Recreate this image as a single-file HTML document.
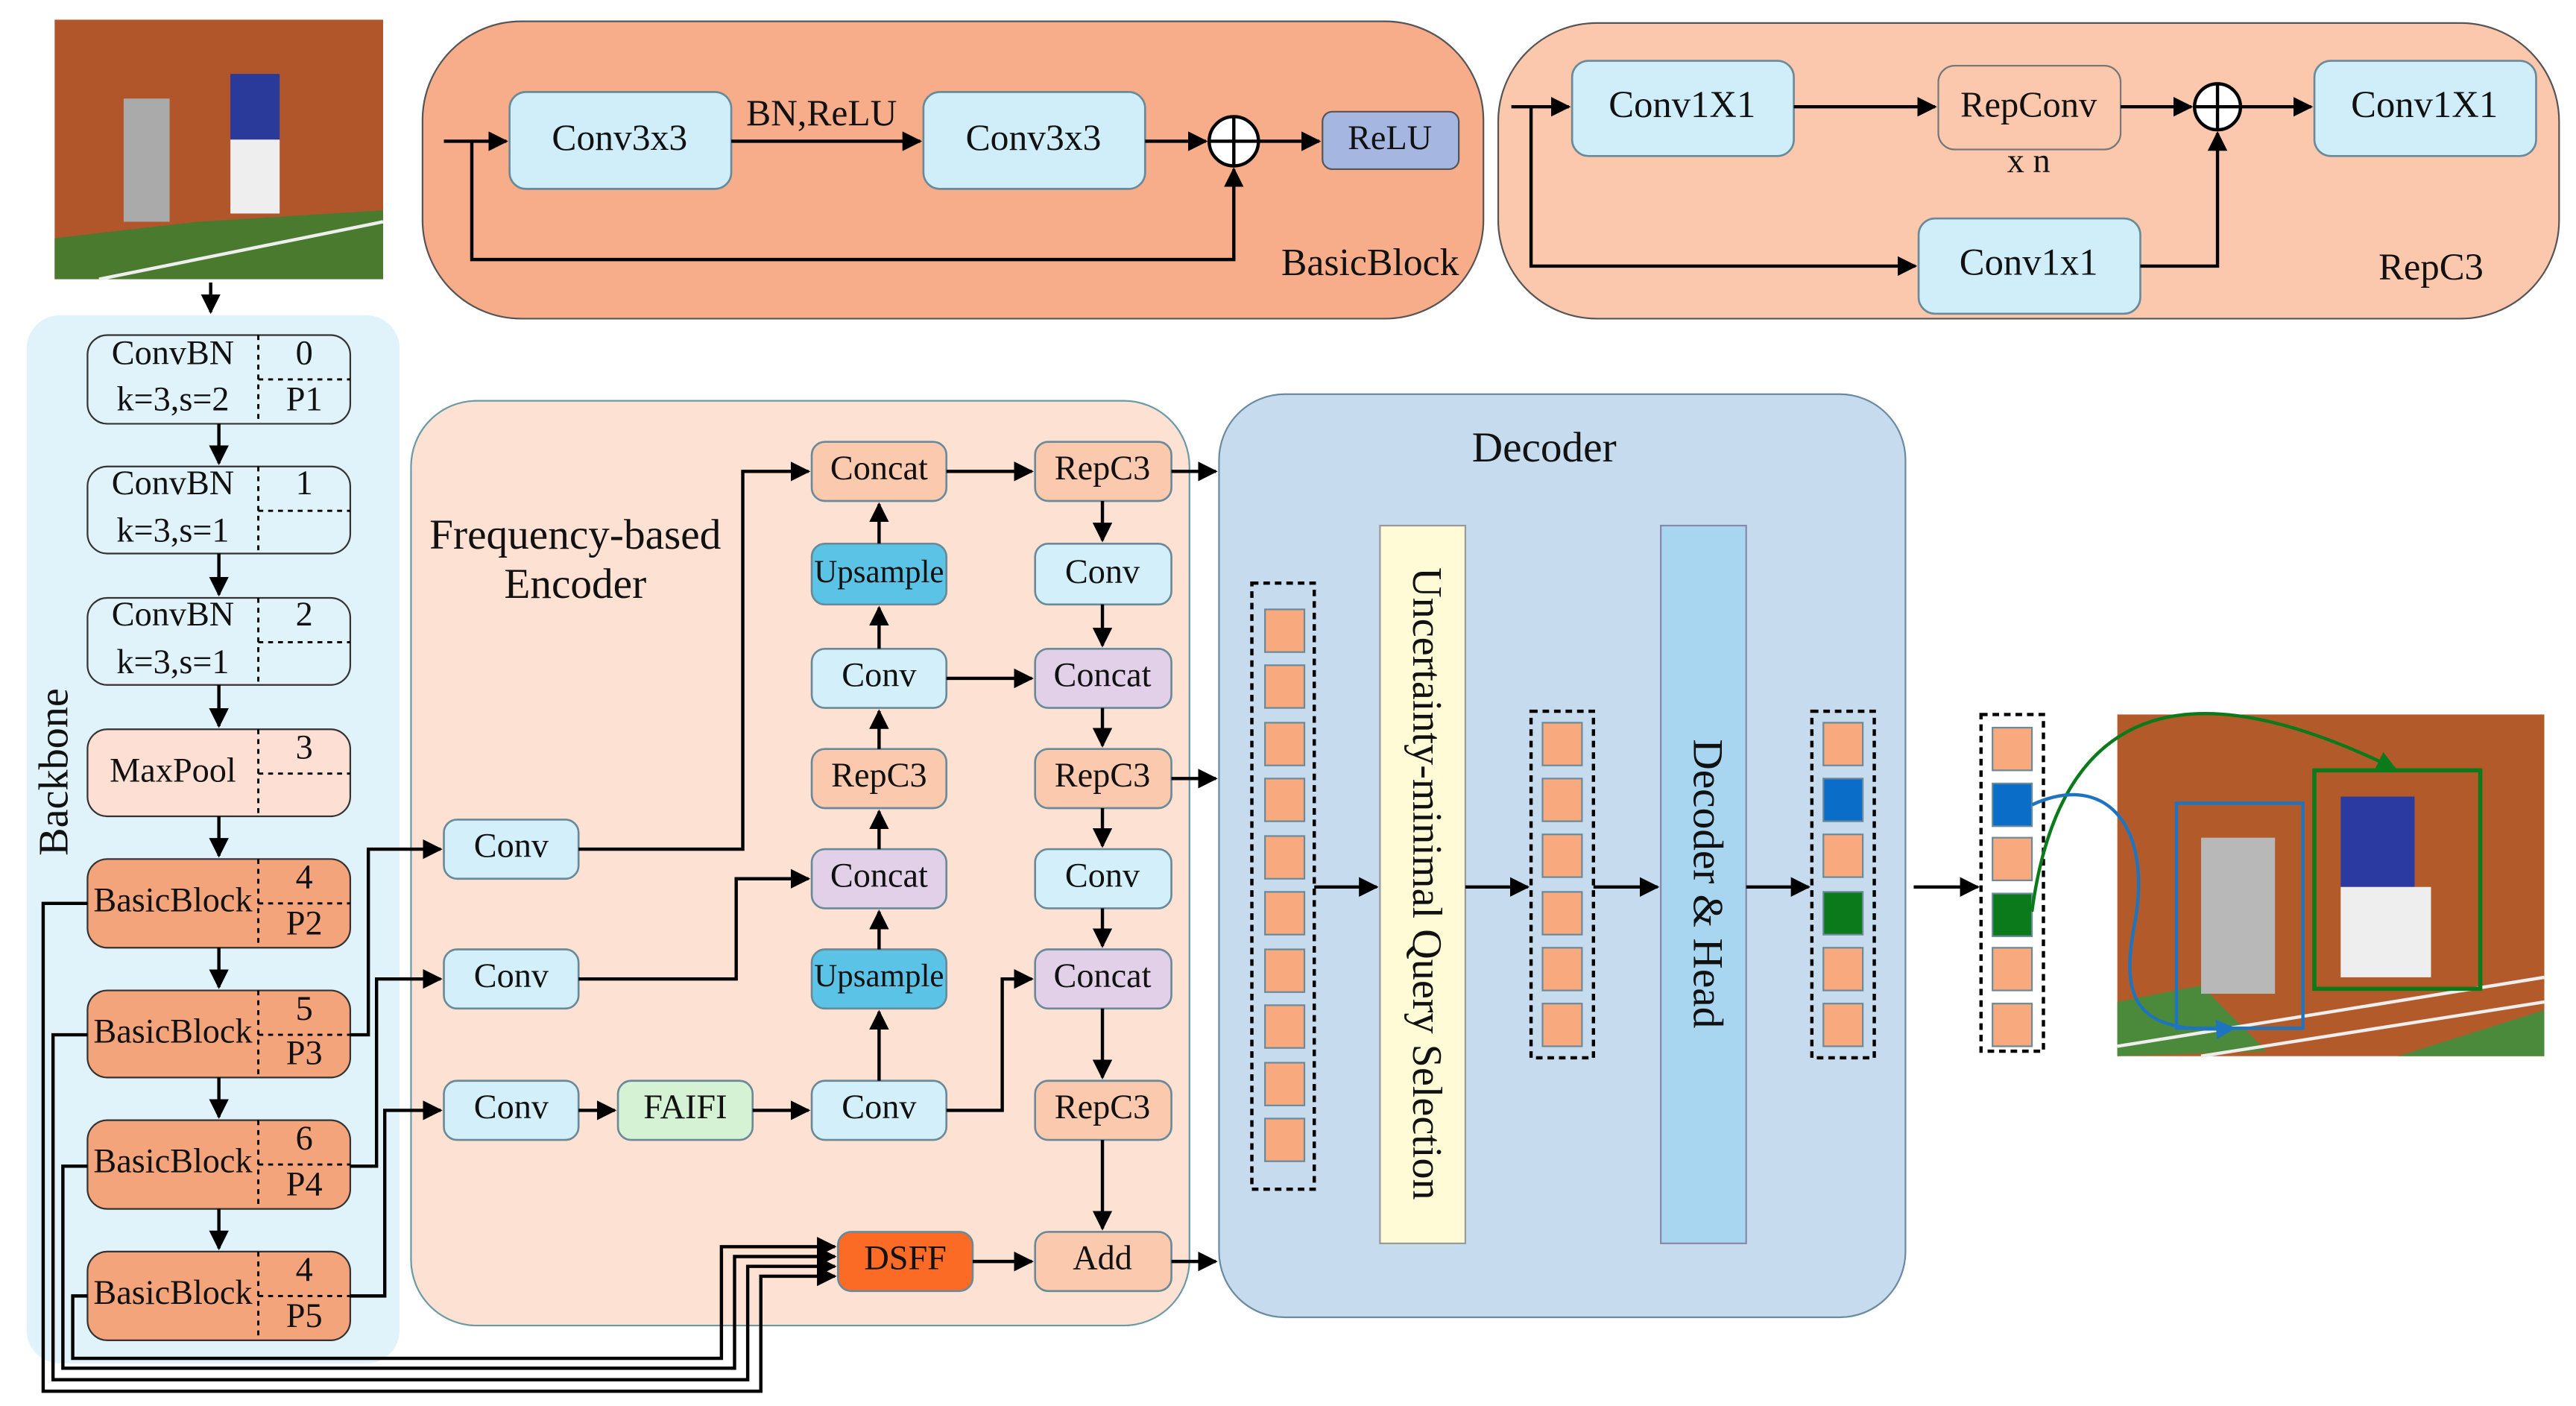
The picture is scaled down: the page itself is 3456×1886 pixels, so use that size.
<!DOCTYPE html>
<html><head><meta charset="utf-8"><style>
html,body{margin:0;padding:0;background:#fff}
svg{display:block}
text{font-family:"Liberation Serif",serif;fill:#111;text-anchor:middle;dominant-baseline:middle}
.b{stroke:#6a8a99;stroke-width:1.2}
.l{fill:none;stroke:#000;stroke-width:2}
</style></head><body>
<svg width="3456" height="1886" viewBox="0 0 1568 856" xmlns="http://www.w3.org/2000/svg" font-size="21">
<defs>
<marker id="a" viewBox="0 0 10 10" refX="9" refY="5" markerWidth="6" markerHeight="6" orient="auto"><path d="M0,0L10,5L0,10z" fill="#000"/></marker>
<marker id="g" viewBox="0 0 10 10" refX="9" refY="5" markerWidth="6" markerHeight="6" orient="auto"><path d="M0,0L10,5L0,10z" fill="#0a7a1a"/></marker>
<marker id="u" viewBox="0 0 10 10" refX="9" refY="5" markerWidth="6" markerHeight="6" orient="auto"><path d="M0,0L10,5L0,10z" fill="#1f74c0"/></marker>
</defs>
<rect x="33" y="12" width="200" height="158" fill="#b0562a"/>
<path d="M33,145 L120,135 L233,128 L233,170 L33,170z" fill="#4a7a2e"/>
<path d="M60,170 L233,135" stroke="#eee" stroke-width="2"/>
<rect x="75" y="60" width="28" height="75" fill="#aaa"/>
<rect x="140" y="45" width="30" height="40" fill="#2a3a9a"/>
<rect x="140" y="85" width="30" height="45" fill="#eee"/>
<path class="l" d="M128,172V190" marker-end="url(#a)"/>
<rect x="16" y="192" width="227" height="638" rx="20" fill="#e0f2fa"/>
<text x="35" y="470" style="font-size:25.5px" transform="rotate(-90 35 470)">Backbone</text>
<g>
<rect x="53" y="204" width="160" height="54" rx="12" fill="#e1f3fa" stroke="#333"/>
<rect x="53" y="284" width="160" height="53" rx="12" fill="#e1f3fa" stroke="#333"/>
<rect x="53" y="364" width="160" height="53" rx="12" fill="#e1f3fa" stroke="#333"/>
<rect x="53" y="444" width="160" height="53" rx="12" fill="#fde0d3" stroke="#333"/>
<rect x="53" y="523" width="160" height="54" rx="12" fill="#f4a47b" stroke="#333"/>
<rect x="53" y="603" width="160" height="53" rx="12" fill="#f4a47b" stroke="#333"/>
<rect x="53" y="682" width="160" height="54" rx="12" fill="#f4a47b" stroke="#333"/>
<rect x="53" y="762" width="160" height="54" rx="12" fill="#f4a47b" stroke="#333"/>
</g>
<g stroke="#000" stroke-dasharray="3,3" stroke-width="1.3">
<path d="M157,204V258M157,231H213M157,284V337M157,311H213M157,364V417M157,391H213M157,444V497M157,471H213M157,523V577M157,550H213M157,603V656M157,630H213M157,682V736M157,709H213M157,762V816M157,789H213"/>
</g>
<text x="105" y="217">ConvBN</text><text x="105" y="245">k=3,s=2</text><text x="185" y="217">0</text><text x="185" y="245">P1</text>
<text x="105" y="296">ConvBN</text><text x="105" y="325">k=3,s=1</text><text x="185" y="296">1</text>
<text x="105" y="376">ConvBN</text><text x="105" y="405">k=3,s=1</text><text x="185" y="376">2</text>
<text x="105" y="471">MaxPool</text><text x="185" y="457">3</text>
<text x="105" y="550">BasicBlock</text><text x="185" y="536">4</text><text x="185" y="564">P2</text>
<text x="105" y="630">BasicBlock</text><text x="185" y="616">5</text><text x="185" y="643">P3</text>
<text x="105" y="709">BasicBlock</text><text x="185" y="695">6</text><text x="185" y="723">P4</text>
<text x="105" y="789">BasicBlock</text><text x="185" y="775">4</text><text x="185" y="803">P5</text>
<g class="l">
<path d="M133,258V282" marker-end="url(#a)"/><path d="M133,337V362" marker-end="url(#a)"/><path d="M133,417V442" marker-end="url(#a)"/><path d="M133,497V521" marker-end="url(#a)"/><path d="M133,577V601" marker-end="url(#a)"/><path d="M133,656V680" marker-end="url(#a)"/><path d="M133,736V760" marker-end="url(#a)"/>
</g>
<rect x="257" y="13" width="646" height="181" rx="60" fill="#f7ad8a" stroke="#555"/>
<rect x="310" y="56" width="135" height="59" rx="10" fill="#cfeefa" class="b"/><text x="377" y="86" style="font-size:22.5px">Conv3x3</text>
<rect x="562" y="56" width="135" height="59" rx="10" fill="#cfeefa" class="b"/><text x="629" y="86" style="font-size:22.5px">Conv3x3</text>
<text x="500" y="71" style="font-size:22.5px">BN,ReLU</text>
<circle cx="751" cy="86" r="15" fill="#fff" stroke="#000" stroke-width="2"/><path d="M736,86H766M751,71V101" stroke="#000" stroke-width="2"/>
<rect x="805" y="68" width="83" height="35" rx="6" fill="#a5b6e0" stroke="#555"/><text x="846" y="86">ReLU</text>
<g class="l">
<path d="M270,86H308" marker-end="url(#a)"/><path d="M445,86H560" marker-end="url(#a)"/><path d="M697,86H734" marker-end="url(#a)"/><path d="M766,86H803" marker-end="url(#a)"/>
<path d="M287,86V158H751V103" marker-end="url(#a)"/>
</g>
<text x="834" y="162" style="font-size:23.5px">BasicBlock</text>
<rect x="912" y="14" width="646" height="180" rx="60" fill="#fcc8ad" stroke="#555"/>
<rect x="957" y="37" width="135" height="58" rx="10" fill="#cfeefa" class="b"/><text x="1024" y="66" style="font-size:23px">Conv1X1</text>
<rect x="1180" y="40" width="111" height="51" rx="10" fill="#fcc8ad" stroke="#777"/><text x="1235" y="66" style="font-size:22px">RepConv</text>
<text x="1235" y="100">x n</text>
<circle cx="1350" cy="65" r="14" fill="#fff" stroke="#000" stroke-width="2"/><path d="M1336,65H1364M1350,51V79" stroke="#000" stroke-width="2"/>
<rect x="1409" y="37" width="135" height="58" rx="10" fill="#cfeefa" class="b"/><text x="1476" y="66" style="font-size:23px">Conv1X1</text>
<rect x="1168" y="133" width="135" height="58" rx="10" fill="#cfeefa" class="b"/><text x="1235" y="162" style="font-size:23px">Conv1x1</text>
<g class="l">
<path d="M920,65H955" marker-end="url(#a)"/><path d="M1092,65H1178" marker-end="url(#a)"/><path d="M1291,65H1334" marker-end="url(#a)"/><path d="M1364,65H1407" marker-end="url(#a)"/>
<path d="M932,65V162H1166" marker-end="url(#a)"/><path d="M1303,162H1350V81" marker-end="url(#a)"/>
</g>
<text x="1480" y="165" style="font-size:23px">RepC3</text>
<rect x="250" y="244" width="474" height="563" rx="40" fill="#fde1d3" stroke="#6a9aa6"/>
<text x="350" y="328" style="font-size:26px">Frequency-based</text><text x="350" y="358" style="font-size:26px">Encoder</text>
<g class="b">
<rect x="270" y="499" width="82" height="36" rx="8" fill="#d3f0fa"/>
<rect x="270" y="578" width="82" height="36" rx="8" fill="#d3f0fa"/>
<rect x="270" y="658" width="82" height="36" rx="8" fill="#d3f0fa"/>
<rect x="376" y="658" width="82" height="36" rx="8" fill="#d5f2d5"/>
<rect x="494" y="658" width="82" height="36" rx="8" fill="#d3f0fa"/>
<rect x="494" y="269" width="82" height="36" rx="8" fill="#fbc9ae"/>
<rect x="494" y="331" width="82" height="37" rx="8" fill="#5ac3e6"/>
<rect x="494" y="395" width="82" height="36" rx="8" fill="#d3f0fa"/>
<rect x="494" y="456" width="82" height="36" rx="8" fill="#fbc9ae"/>
<rect x="494" y="517" width="82" height="36" rx="8" fill="#e2d0e8"/>
<rect x="494" y="578" width="82" height="36" rx="8" fill="#5ac3e6"/>
<rect x="630" y="269" width="83" height="36" rx="8" fill="#fbc9ae"/>
<rect x="630" y="331" width="83" height="37" rx="8" fill="#d3f0fa"/>
<rect x="630" y="395" width="83" height="36" rx="8" fill="#e2d0e8"/>
<rect x="630" y="456" width="83" height="36" rx="8" fill="#fbc9ae"/>
<rect x="630" y="517" width="83" height="36" rx="8" fill="#d3f0fa"/>
<rect x="630" y="578" width="83" height="36" rx="8" fill="#e2d0e8"/>
<rect x="630" y="658" width="83" height="36" rx="8" fill="#fbc9ae"/>
<rect x="630" y="750" width="83" height="36" rx="8" fill="#fbc9ae"/>
<rect x="510" y="750" width="82" height="36" rx="8" fill="#fb6b26"/>
</g>
<text x="311" y="517">Conv</text><text x="311" y="596">Conv</text><text x="311" y="676">Conv</text><text x="417" y="676">FAIFI</text><text x="535" y="676">Conv</text>
<text x="535" y="287">Concat</text><text x="535" y="350" style="font-size:19.5px">Upsample</text><text x="535" y="413">Conv</text><text x="535" y="474">RepC3</text><text x="535" y="535">Concat</text><text x="535" y="596" style="font-size:19.5px">Upsample</text>
<text x="671" y="287">RepC3</text><text x="671" y="350">Conv</text><text x="671" y="413">Concat</text><text x="671" y="474">RepC3</text><text x="671" y="535">Conv</text><text x="671" y="596">Concat</text><text x="671" y="676">RepC3</text><text x="671" y="768">Add</text><text x="551" y="768">DSFF</text>
<g class="l">
<path d="M352,517H452V287H492" marker-end="url(#a)"/>
<path d="M352,596H448V535H492" marker-end="url(#a)"/>
<path d="M352,676H374" marker-end="url(#a)"/><path d="M458,676H492" marker-end="url(#a)"/>
<path d="M576,676H610V596H628" marker-end="url(#a)"/>
<path d="M535,658V616" marker-end="url(#a)"/><path d="M535,578V555" marker-end="url(#a)"/><path d="M535,517V494" marker-end="url(#a)"/><path d="M535,456V433" marker-end="url(#a)"/><path d="M535,395V370" marker-end="url(#a)"/><path d="M535,331V307" marker-end="url(#a)"/>
<path d="M576,287H628" marker-end="url(#a)"/><path d="M576,413H628" marker-end="url(#a)"/>
<path d="M671,305V329" marker-end="url(#a)"/><path d="M671,368V393" marker-end="url(#a)"/><path d="M671,431V454" marker-end="url(#a)"/><path d="M671,492V515" marker-end="url(#a)"/><path d="M671,553V576" marker-end="url(#a)"/><path d="M671,614V656" marker-end="url(#a)"/><path d="M671,694V748" marker-end="url(#a)"/>
<path d="M592,768H628" marker-end="url(#a)"/>
<path d="M713,287H740" marker-end="url(#a)"/><path d="M713,474H740" marker-end="url(#a)"/><path d="M713,768H740" marker-end="url(#a)"/>
<path d="M213,630H224V517H268" marker-end="url(#a)"/>
<path d="M213,710H229V596H268" marker-end="url(#a)"/>
<path d="M213,789H234V676H268" marker-end="url(#a)"/>
<path d="M53,550H26V847H463V777H508" marker-end="url(#a)"/>
<path d="M53,630H32V840H455V771H508" marker-end="url(#a)"/>
<path d="M53,710H38V833H447V765H508" marker-end="url(#a)"/>
<path d="M53,789H44V827H439V759H508" marker-end="url(#a)"/>
</g>
<rect x="742" y="240" width="418" height="562" rx="40" fill="#c6dcee" stroke="#6a8aa0"/>
<text x="940" y="275" style="font-size:26px">Decoder</text>
<rect x="762" y="355" width="38" height="369" fill="none" stroke="#000" stroke-width="2" stroke-dasharray="4,3"/>
<g fill="#f9a97e" stroke="#6a8a99">
<rect x="770" y="371" width="24" height="26"/><rect x="770" y="405" width="24" height="26"/><rect x="770" y="440" width="24" height="26"/><rect x="770" y="474" width="24" height="26"/><rect x="770" y="509" width="24" height="26"/><rect x="770" y="543" width="24" height="26"/><rect x="770" y="578" width="24" height="26"/><rect x="770" y="612" width="24" height="26"/><rect x="770" y="647" width="24" height="26"/><rect x="770" y="681" width="24" height="26"/>
</g>
<rect x="840" y="320" width="52" height="437" fill="#fefbd6" stroke="#999"/>
<text x="866" y="538" style="font-size:25.5px" transform="rotate(90 866 538)">Uncertainty-minimal Query Selection</text>
<rect x="932" y="433" width="38" height="211" fill="none" stroke="#000" stroke-width="2" stroke-dasharray="4,3"/>
<g fill="#f9a97e" stroke="#6a8a99">
<rect x="939" y="440" width="24" height="26"/><rect x="939" y="474" width="24" height="26"/><rect x="939" y="508" width="24" height="26"/><rect x="939" y="543" width="24" height="26"/><rect x="939" y="577" width="24" height="26"/><rect x="939" y="611" width="24" height="26"/>
</g>
<rect x="1011" y="320" width="52" height="437" fill="#a8d5ef" stroke="#88a"/>
<text x="1037" y="538" style="font-size:26px" transform="rotate(90 1037 538)">Decoder &amp; Head</text>
<rect x="1103" y="433" width="38" height="211" fill="none" stroke="#000" stroke-width="2" stroke-dasharray="4,3"/>
<g stroke="#6a8a99">
<rect x="1110" y="440" width="24" height="26" fill="#f9a97e"/><rect x="1110" y="474" width="24" height="26" fill="#0a6ec8"/><rect x="1110" y="508" width="24" height="26" fill="#f9a97e"/><rect x="1110" y="543" width="24" height="26" fill="#0a7a1a"/><rect x="1110" y="577" width="24" height="26" fill="#f9a97e"/><rect x="1110" y="611" width="24" height="26" fill="#f9a97e"/>
</g>
<g class="l">
<path d="M800,540H838" marker-end="url(#a)"/><path d="M892,540H930" marker-end="url(#a)"/><path d="M970,540H1009" marker-end="url(#a)"/><path d="M1063,540H1101" marker-end="url(#a)"/><path d="M1165,540H1204" marker-end="url(#a)"/>
</g>
<rect x="1206" y="435" width="38" height="205" fill="none" stroke="#000" stroke-width="2" stroke-dasharray="4,3"/>
<g stroke="#6a8a99">
<rect x="1213" y="443" width="24" height="26" fill="#f9a97e"/><rect x="1213" y="477" width="24" height="26" fill="#0a6ec8"/><rect x="1213" y="510" width="24" height="26" fill="#f9a97e"/><rect x="1213" y="544" width="24" height="26" fill="#0a7a1a"/><rect x="1213" y="577" width="24" height="26" fill="#f9a97e"/><rect x="1213" y="611" width="24" height="26" fill="#f9a97e"/>
</g>
<rect x="1289" y="435" width="260" height="208" fill="#b35a2a"/>
<path d="M1289,610 L1340,600 L1380,640 L1289,643z" fill="#4a8a3a"/>
<path d="M1460,643 L1549,615 L1549,643z" fill="#4a8a3a"/>
<path d="M1289,637 L1549,595" stroke="#eee" stroke-width="2"/>
<path d="M1340,643 L1549,610" stroke="#eee" stroke-width="2"/>
<rect x="1340" y="510" width="45" height="95" fill="#b8b8b8"/>
<rect x="1425" y="485" width="45" height="55" fill="#2a3aa0"/>
<rect x="1425" y="540" width="55" height="55" fill="#eee"/>
<rect x="1325" y="489" width="77" height="137" fill="none" stroke="#1f74c0" stroke-width="2"/>
<rect x="1409" y="469" width="101" height="133" fill="none" stroke="#0a7a1a" stroke-width="2.5"/>
<path d="M1237,555 C1255,420 1340,410 1458,468" fill="none" stroke="#0a7a1a" stroke-width="2" marker-end="url(#g)"/>
<path d="M1237,490 C1280,470 1310,500 1300,560 C1290,610 1300,630 1360,626" fill="none" stroke="#1f74c0" stroke-width="2" marker-end="url(#u)"/>
</svg>
</body></html>
